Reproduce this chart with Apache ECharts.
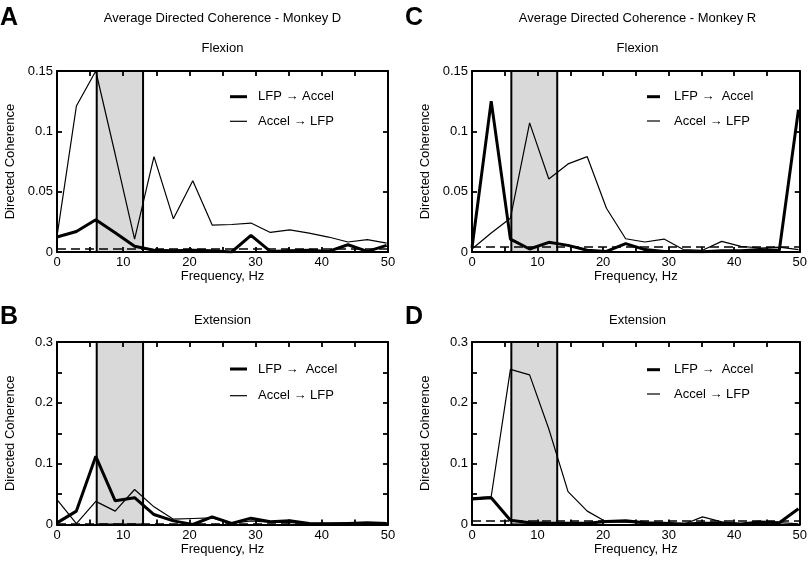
<!DOCTYPE html>
<html>
<head>
<meta charset="utf-8">
<script src="https://cdn.jsdelivr.net/npm/echarts@6/dist/echarts.min.js"></script>
<style>html,body{margin:0;padding:0;background:#fff}#c{width:810px;height:562px}</style>
</head>
<body>
<div id="c"></div>
<script>
// Frequencies (Hz)
var freqs = [0, 2.93, 5.86, 8.79, 11.72, 14.65, 17.58, 20.51, 23.44, 26.37, 29.30, 32.23, 35.16, 38.09, 41.02, 43.95, 46.88, 49.80];

// Panel A: Monkey D, Flexion
var A_lfpAccel = [0.0124, 0.017, 0.0267, 0.016, 0.0047, 0.0015, 0.001, 0.0015, 0.001, 0.0, 0.0138, 0.0005, 0.001, 0.0015, 0.0005, 0.006, 0.0005, 0.0055];
var A_accelLfp = [0.013, 0.121, 0.150, 0.081, 0.0107, 0.079, 0.0275, 0.059, 0.0223, 0.0228, 0.024, 0.0162, 0.0184, 0.0157, 0.0124, 0.0083, 0.0102, 0.0074];
var A_sig = 0.0025;

// Panel B: Monkey D, Extension
var B_lfpAccel = [0.0027, 0.022, 0.112, 0.039, 0.044, 0.0164, 0.006, 0.0, 0.0126, 0.0016, 0.0104, 0.0044, 0.006, 0.0016, 0.0011, 0.0016, 0.003, 0.0016];
var B_accelLfp = [0.041, 0.0016, 0.038, 0.022, 0.0575, 0.029, 0.0088, 0.0099, 0.011, 0.0016, 0.006, 0.004, 0.003, 0.002, 0.002, 0.003, 0.003, 0.002];
var B_sig = 0.002;

// Panel C: Monkey R, Flexion
var C_lfpAccel = [0.0035, 0.125, 0.0107, 0.0025, 0.008, 0.0055, 0.0014, 0.0005, 0.0069, 0.002, 0.0005, 0.0005, 0.0003, 0.001, 0.001, 0.002, 0.0014, 0.118];
var C_accelLfp = [0.0025, 0.0157, 0.028, 0.107, 0.0605, 0.073, 0.079, 0.0363, 0.011, 0.0083, 0.0107, 0.002, 0.0014, 0.0088, 0.0047, 0.0033, 0.004, 0.002];
var C_sig = 0.0047;

// Panel D: Monkey R, Extension
var D_lfpAccel = [0.042, 0.044, 0.007, 0.003, 0.002, 0.002, 0.002, 0.005, 0.006, 0.003, 0.002, 0.001, 0.002, 0.002, 0.001, 0.004, 0.003, 0.026];
var D_accelLfp = [0.044, 0.046, 0.255, 0.246, 0.157, 0.054, 0.022, 0.004, 0.004, 0.002, 0.001, 0.000, 0.0126, 0.0044, 0.001, 0.002, 0.003, 0.001];
var D_sig = 0.006;

var band = [6, 13];
var xTicks = {min: 0, max: 50, interval: 10};
var yMaxTop = 0.15, yIntTop = 0.05;
var yMaxBot = 0.3, yIntBot = 0.1;

var FONT = 'Liberation Sans, Arial, Helvetica, sans-serif';

function pairs(ys) { return freqs.map(function (f, i) { return [f, ys[i]]; }); }

var grids = [
  {left: 57, top: 71, width: 331, height: 181},
  {left: 57, top: 342, width: 331, height: 182.5},
  {left: 472, top: 71, width: 331, height: 181},
  {left: 472, top: 342, width: 331, height: 182.5}
];
var yMax = [yMaxTop, yMaxBot, yMaxTop, yMaxBot];
var yInt = [yIntTop, yIntBot, yIntTop, yIntBot];
var yMinor = [false, true, false, true];

var xAxes = [], yAxes = [], series = [];
grids.forEach(function (g, i) {
  var common = {
    gridIndex: i, type: 'value', min: xTicks.min, max: xTicks.max, interval: xTicks.interval,
    axisLine: {show: true, onZero: false, lineStyle: {color: '#000', width: 2}},
    axisTick: {show: true, inside: true, length: 5, lineStyle: {color: '#000', width: 1.8}},
    minorTick: {show: true, splitNumber: 2, length: 5, lineStyle: {color: '#000', width: 1.8}},
    splitLine: {show: false}, minorSplitLine: {show: false}, z: 5
  };
  xAxes.push(Object.assign({}, common, {
    position: 'bottom',
    name: 'Frequency, Hz', nameLocation: 'middle', nameGap: 18,
    nameTextStyle: {fontFamily: FONT, fontSize: 13, color: '#000', verticalAlign: 'top'},
    axisLabel: {show: true, margin: 4, fontFamily: FONT, fontSize: 13, color: '#000'}
  }));
  xAxes.push(Object.assign({}, common, {position: 'top', axisLabel: {show: false}}));
  var yc = {
    gridIndex: i, type: 'value', min: 0, max: yMax[i], interval: yInt[i],
    axisLine: {show: true, onZero: false, lineStyle: {color: '#000', width: 2}},
    axisTick: {show: true, inside: true, length: 5, lineStyle: {color: '#000', width: 1.8}},
    minorTick: {show: yMinor[i], splitNumber: 2, length: 5, lineStyle: {color: '#000', width: 1.8}},
    splitLine: {show: false}, minorSplitLine: {show: false}, z: 5
  };
  yAxes.push(Object.assign({}, yc, {
    position: 'left',
    name: 'Directed Coherence', nameLocation: 'middle', nameGap: 40,
    nameTextStyle: {fontFamily: FONT, fontSize: 13, color: '#000'},
    axisLabel: {show: true, margin: 4, fontFamily: FONT, fontSize: 13, color: '#000'}
  }));
  yAxes.push(Object.assign({}, yc, {position: 'right', axisLabel: {show: false}}));
});

var panelData = [
  [A_lfpAccel, A_accelLfp, A_sig],
  [B_lfpAccel, B_accelLfp, B_sig],
  [C_lfpAccel, C_accelLfp, C_sig],
  [D_lfpAccel, D_accelLfp, D_sig]
];
// distinct names per panel (trailing spaces are invisible) so each legend picks its own series
var lfpNames = ['LFP \u2192 Accel', 'LFP \u2192  Accel ', 'LFP \u2192  Accel  ', 'LFP \u2192  Accel   '];
var accNames = ['Accel \u2192 LFP', 'Accel \u2192 LFP ', 'Accel \u2192 LFP  ', 'Accel \u2192 LFP   '];

panelData.forEach(function (p, i) {
  series.push({
    type: 'line', xAxisIndex: 2 * i, yAxisIndex: 2 * i, data: [], z: 1, silent: true,
    markArea: {
      silent: true,
      itemStyle: {color: '#d9d9d9', borderColor: '#000', borderWidth: 2},
      data: [[{xAxis: band[0]}, {xAxis: band[1]}]]
    }
  });
  series.push({
    name: lfpNames[i], type: 'line', xAxisIndex: 2 * i, yAxisIndex: 2 * i,
    data: pairs(p[0]), symbol: 'none', z: 3,
    lineStyle: {color: '#000', width: 3}, itemStyle: {color: '#000'}
  });
  series.push({
    name: accNames[i], type: 'line', xAxisIndex: 2 * i, yAxisIndex: 2 * i,
    data: pairs(p[1]), symbol: 'none', z: 3,
    lineStyle: {color: '#000', width: 1.2}, itemStyle: {color: '#000'}
  });
  // significance threshold (dashed), drawn above the data lines
  series.push({
    type: 'line', xAxisIndex: 2 * i, yAxisIndex: 2 * i, data: [], z: 4, silent: true,
    markLine: {
      silent: true, symbol: 'none', label: {show: false}, z: 4, precision: 5,
      lineStyle: {color: '#000', width: 1.6, type: [9, 5]},
      data: [{yAxis: p[2]}]
    }
  });
});

// legend row centres: [iconLeft, row1Y, row2Y, iconWidth, textPad]
var legendPos = [
  [230, 97.7, 122.3, 17, 6],
  [230, 370, 396.7, 17, 6],
  [647, 97.7, 122, 13, 9],
  [647, 370.7, 395, 13, 9]
];
var legends = [];
legendPos.forEach(function (l, i) {
  [[lfpNames[i], l[1], 3], [accNames[i], l[2], 1.2]].forEach(function (it) {
    legends.push({
      left: l[0], top: it[1] - 7.5, padding: 0, height: 15,
      itemWidth: l[3], itemHeight: it[2], selectedMode: false, icon: 'rect',
      itemStyle: {color: '#000', borderWidth: 0},
      data: [it[0]],
      textStyle: {fontFamily: FONT, fontSize: 13, color: '#000', padding: [0, 0, 0, l[4]]}
    });
  });
});

function txt(t, x, y, size, bold, align) {
  return {type: 'text', x: x, y: y, z: 10, style: {text: t, fill: '#000', font: (bold ? 'bold ' : '') + size + 'px ' + FONT, textAlign: align || 'center', textVerticalAlign: 'middle'}};
}

var chart = echarts.init(document.getElementById('c'), null, {renderer: 'canvas'});
chart.setOption({
  backgroundColor: '#fff',
  animation: false,
  grid: grids,
  xAxis: xAxes,
  yAxis: yAxes,
  legend: legends,
  series: series,
  graphic: [
    txt('A', 0, 18, 25, true, 'left'),
    txt('B', 0, 317, 25, true, 'left'),
    txt('C', 405, 18, 25, true, 'left'),
    txt('D', 405, 317, 25, true, 'left'),
    txt('Average Directed Coherence - Monkey D', 222.5, 18, 13),
    txt('Average Directed Coherence - Monkey R', 637.5, 18, 13),
    txt('Flexion', 222.5, 48.5, 13),
    txt('Flexion', 637.5, 48.5, 13),
    txt('Extension', 222.5, 320.5, 13),
    txt('Extension', 637.5, 320.5, 13)
  ]
});
</script>
</body>
</html>
